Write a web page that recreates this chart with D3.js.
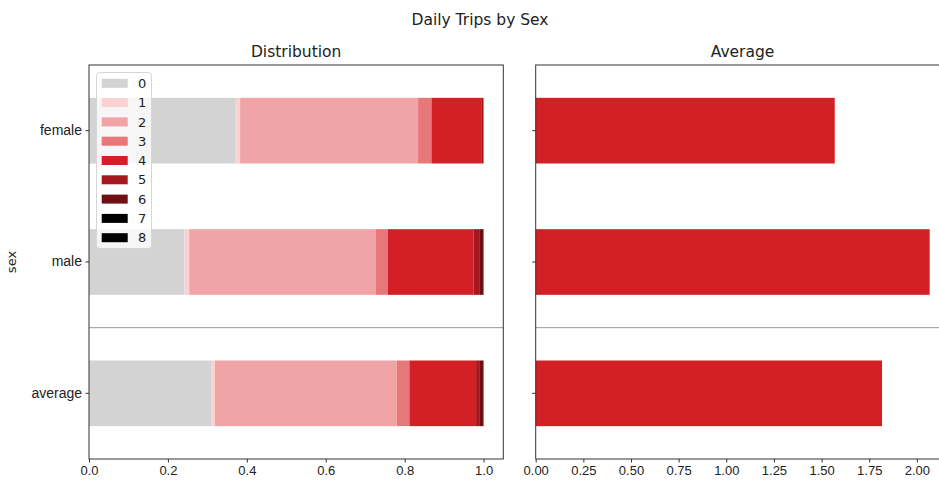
<!DOCTYPE html>
<html>
<head>
<meta charset="utf-8">
<script src="https://cdn.jsdelivr.net/npm/d3@7"></script>
<style>
  html, body { margin: 0; padding: 0; background: #fff; }
  svg { display: block; font-family: "DejaVu Sans", sans-serif; }
</style>
</head>
<body>
<svg id="chart" width="939" height="481"></svg>
<script>
// Groups shown as rows (top to bottom)
const categories = ["female", "male", "average"];
// Number of trips per day (stack order / legend entries)
const tripCounts = ["0", "1", "2", "3", "4", "5", "6", "7", "8"];
// Share of people per trip count, one array per group
const femaleShares  = [0.372, 0.011, 0.451, 0.034, 0.126, 0.005, 0.001, 0.000, 0.000];
const maleShares    = [0.242, 0.012, 0.472, 0.031, 0.218, 0.014, 0.011, 0.000, 0.000];
const averageShares = [0.311, 0.008, 0.461, 0.032, 0.169, 0.008, 0.011, 0.000, 0.000];
// Mean daily trips per group
const meanTrips = [1.569, 2.067, 1.817];
// Axis ticks
const distTicks = [0, 0.2, 0.4, 0.6, 0.8, 1.0];
const avgTicks = [0, 0.25, 0.5, 0.75, 1.0, 1.25, 1.5, 1.75, 2.0];
// Palette for trip counts
const tripColors = ["#d3d3d3", "#fad2d3", "#f0a4a6", "#e8777a", "#d32027", "#a3191e", "#6e1013", "#000000", "#000000"];

const svg = d3.select("#chart");
const textColor = "#222";
const plotTop = 65, plotBottom = 459;
const tickFont = "13px", labelFont = "14px", titleFont = "15.5px";

const rows = categories.map((c, i) => {
  const shares = [femaleShares, maleShares, averageShares][i];
  const r = { group: c };
  tripCounts.forEach((k, j) => r[k] = shares[j]);
  return r;
});

const y = d3.scaleBand().domain(categories).range([plotTop, plotBottom])
  .paddingInner(0.5).paddingOuter(0.25);

// ---- Left panel: stacked distribution ----
const xDist = d3.scaleLinear().domain([0, 1.05]).range([89, 503.3]);
const color = d3.scaleOrdinal().domain(tripCounts).range(tripColors);
const stacked = d3.stack().keys(tripCounts)(rows);

const gDist = svg.append("g");
gDist.selectAll("g.layer").data(stacked).join("g")
  .attr("class", "layer")
  .attr("fill", d => color(d.key))
  .selectAll("rect").data(d => d).join("rect")
  .attr("x", d => xDist(d[0]))
  .attr("width", d => Math.max(0, xDist(d[1]) - xDist(d[0])))
  .attr("y", d => y(d.data.group))
  .attr("height", y.bandwidth());

// ---- Right panel: mean trips ----
const avgMax = d3.max(meanTrips) * 1.05;
const xAvg = d3.scaleLinear().domain([0, avgMax]).range([535.7, 535.7 + 190.6 * avgMax]);
const gAvg = svg.append("g");
gAvg.selectAll("rect").data(categories).join("rect")
  .attr("x", xAvg(0))
  .attr("width", (d, i) => xAvg(meanTrips[i]) - xAvg(0))
  .attr("y", d => y(d))
  .attr("height", y.bandwidth())
  .attr("fill", tripColors[4]);

// Separator between groups and overall average
const sepY = (y("male") + y.bandwidth() + y("average")) / 2;
[[xDist.range()[0], xDist.range()[1]], [xAvg.range()[0], xAvg.range()[1]]].forEach(([a, b]) => {
  svg.append("line").attr("x1", a).attr("x2", b).attr("y1", sepY).attr("y2", sepY)
    .attr("stroke", "#9a9a9a").attr("stroke-width", 1);
});

// Axes
function styleAxis(size) {
  return g => {
    g.select(".domain").remove();
    g.selectAll("line").attr("stroke", "#333");
    g.selectAll("text").attr("fill", textColor).style("font-size", size);
  };
}
svg.append("g").attr("transform", `translate(0,${plotBottom})`)
  .call(d3.axisBottom(xDist).tickValues(distTicks).tickFormat(d3.format(".1f")).tickSize(3.5).tickPadding(3.5))
  .call(styleAxis(tickFont));
svg.append("g").attr("transform", `translate(0,${plotBottom})`)
  .call(d3.axisBottom(xAvg).tickValues(avgTicks).tickFormat(d3.format(".2f")).tickSize(3.5).tickPadding(3.5))
  .call(styleAxis(tickFont));
svg.append("g").attr("transform", `translate(${xDist.range()[0]},0)`)
  .call(d3.axisLeft(y).tickSize(3.5).tickPadding(3.5))
  .call(styleAxis(labelFont));
svg.append("g").attr("transform", `translate(${xAvg.range()[0]},0)`)
  .call(d3.axisLeft(y).tickSize(3.5).tickFormat(""))
  .call(styleAxis(labelFont));

// Frames
[[xDist.range()[0], xDist.range()[1]], [xAvg.range()[0], xAvg.range()[1]]].forEach(([a, b]) => {
  svg.append("rect").attr("x", a).attr("y", plotTop).attr("width", b - a).attr("height", plotBottom - plotTop)
    .attr("fill", "none").attr("stroke", "#333").attr("stroke-width", 1);
});

// Legend
const legend = svg.append("g");
legend.append("rect").attr("x", 96.5).attr("y", 72.5).attr("width", 55).attr("height", 176)
  .attr("rx", 3).attr("fill", "#fff").attr("fill-opacity", 0.8).attr("stroke", "#d6d6d6");
tripCounts.forEach((k, i) => {
  const cy = 83.3 + i * 19.3;
  legend.append("rect").attr("x", 101.7).attr("y", cy - 4.5).attr("width", 26).attr("height", 9)
    .attr("fill", color(k));
  legend.append("text").attr("x", 138).attr("y", cy).attr("dy", "0.36em")
    .attr("fill", textColor).style("font-size", tickFont).text(k);
});

// Titles
svg.append("text").attr("x", 480).attr("y", 25).attr("text-anchor", "middle")
  .attr("fill", textColor).style("font-size", titleFont).text("Daily Trips by Sex");
svg.append("text").attr("x", (xDist.range()[0] + xDist.range()[1]) / 2).attr("y", 57).attr("text-anchor", "middle")
  .attr("fill", textColor).style("font-size", titleFont).text("Distribution");
svg.append("text").attr("x", (xAvg.range()[0] + xAvg.range()[1]) / 2).attr("y", 57).attr("text-anchor", "middle")
  .attr("fill", textColor).style("font-size", titleFont).text("Average");
svg.append("text").attr("transform", `translate(16,${(plotTop + plotBottom) / 2}) rotate(-90)`)
  .attr("text-anchor", "middle").attr("fill", textColor).style("font-size", tickFont).text("sex");
</script>
</body>
</html>
